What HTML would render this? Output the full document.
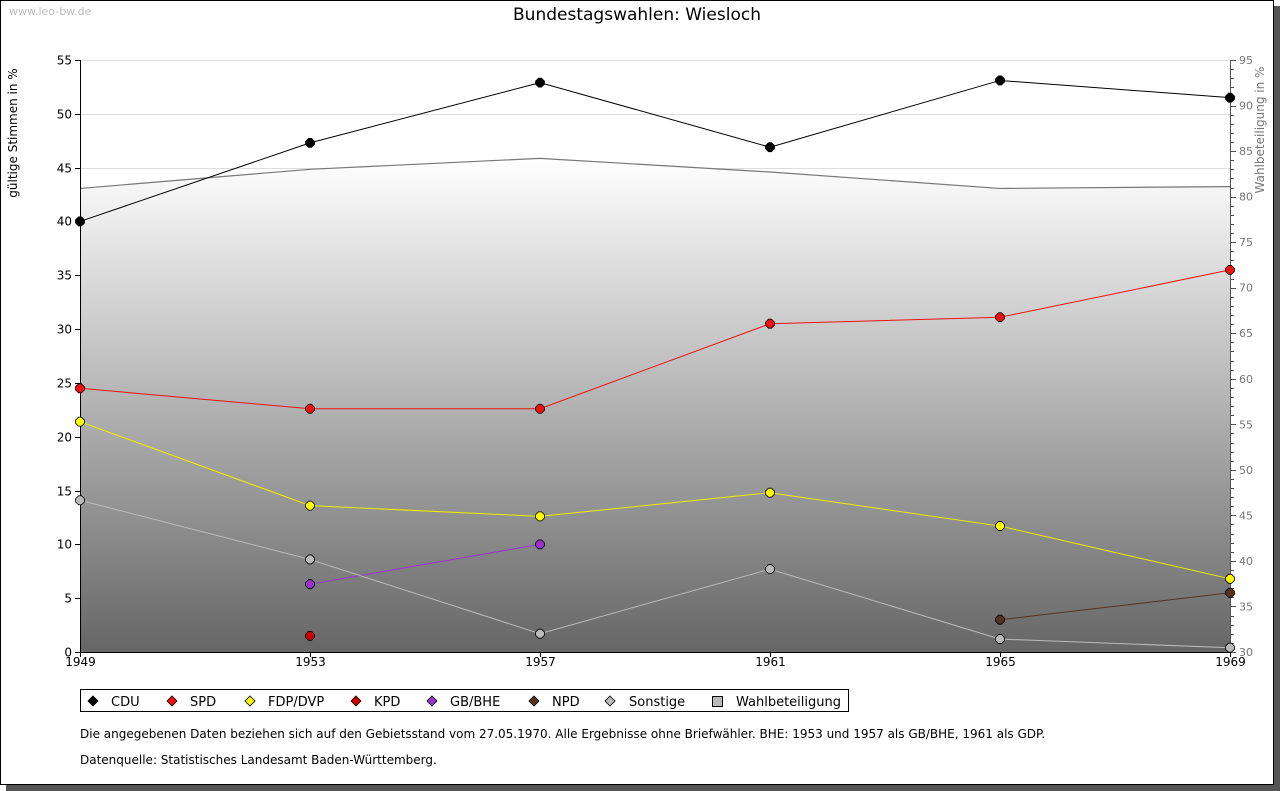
<!DOCTYPE html>
<html><head><meta charset="utf-8"><style>
body{margin:0;background:#fff;}
svg{display:block;font-family:"DejaVu Sans","Liberation Sans",sans-serif;}
</style></head><body>
<svg id="chart" width="1280" height="791" xmlns="http://www.w3.org/2000/svg">
<defs>
<linearGradient id="turnGrad" x1="0" y1="0" x2="0" y2="1">
<stop offset="0" stop-color="#ffffff"/><stop offset="1" stop-color="#666666"/>
</linearGradient>
</defs>
<rect x="6" y="6" width="1274" height="785" fill="#555"/>
<rect x="0.5" y="0.5" width="1273" height="784" fill="#fff" stroke="#000"/>
<text x="9" y="15" font-size="11" fill="#bbb">www.leo-bw.de</text>
<text x="637" y="20" font-size="17" text-anchor="middle" fill="#000">Bundestagswahlen: Wiesloch</text>
<text transform="translate(17,133) rotate(-90)" font-size="12" text-anchor="middle" fill="#000">gültige Stimmen in %</text>
<text transform="translate(1264,130) rotate(-90)" font-size="12" text-anchor="middle" fill="#777">Wahlbeteiligung in %</text>
<g id="grid"></g>
<g id="area"></g>
<g id="axes"></g>
<g id="series"></g>
<g>
<rect x="80.5" y="689.5" width="768" height="22" fill="#fff" stroke="#000"/>
<g id="legend"></g>
</g>
<text x="80" y="738" font-size="12" fill="#000">Die angegebenen Daten beziehen sich auf den Gebietsstand vom 27.05.1970. Alle Ergebnisse ohne Briefwähler. BHE: 1953 und 1957 als GB/BHE, 1961 als GDP.</text>
<text x="80" y="764" font-size="12" fill="#000">Datenquelle: Statistisches Landesamt Baden-Württemberg.</text>
</svg>
<script>
const years = [1949, 1953, 1957, 1961, 1965, 1969];
const cdu = [40.0, 47.3, 52.9, 46.9, 53.1, 51.5];
const spd = [24.5, 22.6, 22.6, 30.5, 31.1, 35.5];
const fdp = [21.4, 13.6, 12.6, 14.8, 11.7, 6.8];
const kpd = [null, 1.5, null, null, null, null];
const bhe = [null, 6.3, 10.0, null, null, null];
const npd = [null, null, null, null, 3.0, 5.5];
const sonst = [14.1, 8.6, 1.7, 7.7, 1.2, 0.4];
const turnout = [80.9, 83.0, 84.2, 82.7, 80.9, 81.1];
const leftTicks = [0, 5, 10, 15, 20, 25, 30, 35, 40, 45, 50, 55];
const rightTicks = [30, 35, 40, 45, 50, 55, 60, 65, 70, 75, 80, 85, 90, 95];

const NS = "http://www.w3.org/2000/svg";
const X0 = 80, X1 = 1230, Y0 = 652, Y1 = 60;
const xs = y => X0 + (y - 1949) / 20 * (X1 - X0);
const yl = v => Y0 - v / 55 * (Y0 - Y1);
const yr = v => Y0 - (v - 30) / 65 * (Y0 - Y1);
function mk(tag, attrs, parent) { const e = document.createElementNS(NS, tag); for (const k in attrs) e.setAttribute(k, attrs[k]); parent.appendChild(e); return e; }
const grid = document.getElementById('grid'), axes = document.getElementById('axes'), area = document.getElementById('area'), ser = document.getElementById('series');

leftTicks.forEach(t => {
  const y = Math.round(yl(t)) + 0.5;
  if (t > 0) { const g = mk('line', {x1: X0, x2: X1, y1: y, y2: y, stroke: '#ddd'}, grid);
    
     }
  mk('line', {x1: X0 - 5, x2: X0, y1: y, y2: y, stroke: '#000'}, axes);
  const tx = mk('text', {x: X0 - 8, y: y + 4, 'font-size': 12, 'text-anchor': 'end'}, axes);
  tx.textContent = t;
  
  
});
for (let v = 30; v <= 95; v++) {
  const y = Math.round(yr(v)) + 0.5;
  mk('line', {x1: X1, x2: X1 + (v % 5 === 0 ? 6 : 4), y1: y, y2: y, stroke: '#555'}, axes);
}
rightTicks.forEach(t => {
  const tx = mk('text', {x: X1 + 9, y: yr(t) + 4, 'font-size': 11, fill: '#777'}, axes);
  tx.textContent = t;
  
  
});
years.forEach((yv, i) => {
  const x = Math.round(xs(yv)) + 0.5;
  mk('line', {x1: x, x2: x, y1: Y0, y2: Y0 + 5, stroke: '#000'}, axes);
  const tx = mk('text', {x: x, y: Y0 + 14, 'font-size': 12, 'text-anchor': 'middle'}, axes);
  tx.textContent = yv;
  
  
});

let d = 'M' + X0 + ',' + Y0;
years.forEach((yv, i) => d += ' L' + xs(yv) + ',' + yr(turnout[i]));
d += ' L' + X1 + ',' + Y0 + ' Z';
const ar = mk('path', {d: d, fill: 'url(#turnGrad)'}, area);


const tl = mk('polyline', {points: years.map((yv, i) => xs(yv) + ',' + yr(turnout[i])).join(' '), fill: 'none', stroke: '#777', 'stroke-width': 1.2}, area);



mk('line', {x1: X0 + 0.5, x2: X0 + 0.5, y1: Y1, y2: Y0, stroke: '#000'}, axes);
mk('line', {x1: X1 + 0.5, x2: X1 + 0.5, y1: Y1, y2: Y0, stroke: '#555'}, axes);
mk('line', {x1: X0, x2: X1, y1: Y0 + 0.5, y2: Y0 + 0.5, stroke: '#000'}, axes);

const seriesList = [
  ['cdu', cdu, '#000000', '#000000'],
  ['spd', spd, '#ee1111', '#ee1111'],
  ['fdp', fdp, '#eeee00', '#ffff00'],
  ['kpd', kpd, '#aa0000', '#cc0000'],
  ['gb-bhe', bhe, '#9933cc', '#9933cc'],
  ['npd', npd, '#553322', '#553322'],
  ['sonstige', sonst, '#bbbbbb', '#bbbbbb']
];
function marker(x, y, fill, parent) {
  return mk('path', {d: `M${x-1.5},${y-4.5} L${x+1.5},${y-4.5} L${x+4.5},${y-1.5} L${x+4.5},${y+1.5} L${x+1.5},${y+4.5} L${x-1.5},${y+4.5} L${x-4.5},${y+1.5} L${x-4.5},${y-1.5} Z`, fill: fill, stroke: '#000', 'stroke-width': 0.8}, parent);
}
seriesList.forEach(([name, vals, lc, fc]) => {
  const g = mk('g', {}, ser);
  
  
  let seg = [];
  const flush = () => { if (seg.length > 1) mk('polyline', {points: seg.join(' '), fill: 'none', stroke: lc, 'stroke-width': 1}, g); seg = []; };
  vals.forEach((v, i) => { if (v === null) flush(); else seg.push(xs(years[i]) + ',' + yl(v)); });
  flush();
  vals.forEach((v, i) => { if (v !== null) {
    const m = marker(xs(years[i]), yl(v), fc, g);
    
    
  }});
});

const legendItems = [['CDU', '#000', 93, 111], ['SPD', '#ee1111', 172, 190], ['FDP/DVP', '#ffff00', 250, 268], ['KPD', '#cc0000', 356, 374], ['GB/BHE', '#9933cc', 432, 450], ['NPD', '#553322', 534, 552], ['Sonstige', '#bbbbbb', 610, 629]];
const lg = document.getElementById('legend');
legendItems.forEach(([lab, c, mx, tx]) => {
  const g = mk('g', {}, lg);
  
  
  mk('path', {d: `M${mx},${696} L${mx+5},${701} L${mx},${706} L${mx-5},${701} Z`, fill: c, stroke: '#000', 'stroke-width': 0.8}, g);
  const t = mk('text', {x: tx, y: 706, 'font-size': 13}, g);
  t.textContent = lab;
});
const g2 = mk('g', {}, lg);


mk('rect', {x: 712.5, y: 696.5, width: 10, height: 10, fill: '#bbb', stroke: '#000'}, g2);
const t2 = mk('text', {x: 736, y: 706, 'font-size': 13}, g2);
t2.textContent = 'Wahlbeteiligung';
</script>
</body></html>
